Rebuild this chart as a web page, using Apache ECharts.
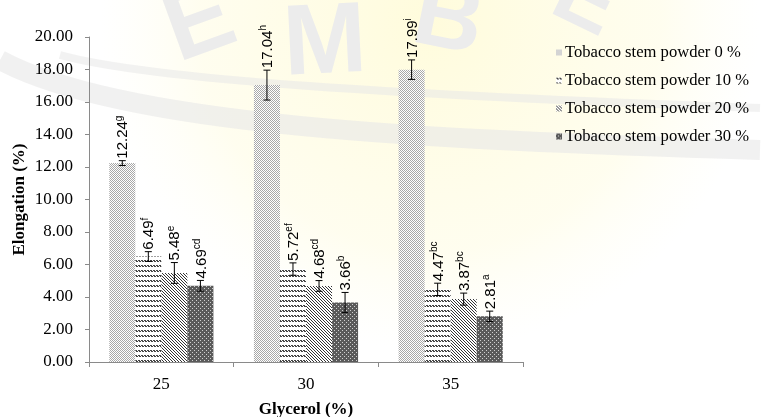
<!DOCTYPE html>
<html>
<head>
<meta charset="utf-8">
<script src="https://cdn.jsdelivr.net/npm/echarts@6/dist/echarts.min.js"></script>
<style>
  html, body { margin: 0; padding: 0; background: #ffffff; }
  #chart { width: 761px; height: 417px; }
</style>
</head>
<body>
<div id="chart"></div>
<script>
// Glycerol levels on the x axis
const categories = ['25', '30', '35'];

// Series names (tobacco stem powder content)
const seriesNames = [
  'Tobacco stem powder 0 %',
  'Tobacco stem powder 10 %',
  'Tobacco stem powder 20 %',
  'Tobacco stem powder 30 %'
];

// Mean elongation (%) per glycerol level
const powder0 = [12.24, 17.04, 17.99];
const powder10 = [6.49, 5.72, 4.47];
const powder20 = [5.48, 4.68, 3.87];
const powder30 = [4.69, 3.66, 2.81];

// Standard deviations (error bars)
const sd0 = [0.15, 0.92, 0.60];
const sd10 = [0.30, 0.38, 0.38];
const sd20 = [0.64, 0.33, 0.37];
const sd30 = [0.33, 0.62, 0.32];

// Significance letters
const letters0 = ['g', 'h', 'i'];
const letters10 = ['f', 'ef', 'bc'];
const letters20 = ['e', 'cd', 'bc'];
const letters30 = ['cd', 'b', 'a'];

// Y axis range
const yMin = 0;
const yMax = 20;
const yStep = 2;

const values = [powder0, powder10, powder20, powder30];
const errors = [sd0, sd10, sd20, sd30];
const letters = [letters0, letters10, letters20, letters30];

const CATEGORY_GAP = 0.28;
const SERIF = '"Liberation Serif", "Times New Roman", serif';
const SANS = '"Liberation Sans", Arial, sans-serif';

// Small pixel tiles used as hatch fills
function tile(w, h, bg, fg, pixels) {
  const c = document.createElement('canvas');
  c.width = w; c.height = h;
  const ctx = c.getContext('2d');
  ctx.fillStyle = bg; ctx.fillRect(0, 0, w, h);
  ctx.fillStyle = fg;
  pixels.forEach(p => ctx.fillRect(p[0], p[1], 1, 1));
  return { image: c, repeat: 'repeat' };
}

const fills = [
  // fine dots
  tile(2, 2, '#ffffff', '#a8a8a8', [[0, 0], [1, 1]]),
  // rows of short slanted dashes
  tile(3, 5, '#ffffff', '#444444', [[0, 0], [1, 0], [1, 1], [2, 1]]),
  // downward diagonals
  tile(3, 3, '#ffffff', '#333333', [[0, 0], [1, 1], [2, 2]]),
  // dark dotted
  tile(4, 4, '#5a5a5a', '#d0d0d0', [[0, 0], [2, 2]])
];

const barSeries = seriesNames.map((name, i) => ({
  name: name,
  type: 'bar',
  data: values[i],
  barGap: '0%',
  barCategoryGap: (CATEGORY_GAP * 100) + '%',
  itemStyle: { color: fills[i] },
  emphasis: { disabled: true },
  z: 2
}));

// Error bars + rotated value labels, one row per bar
const errRows = [];
const errLetters = [];
values.forEach((arr, s) => {
  arr.forEach((v, c) => {
    errRows.push([c, v, errors[s][c], s]);
    errLetters.push(letters[s][c]);
  });
});

const errSeries = {
  type: 'custom',
  name: 'errors',
  data: errRows,
  z: 5,
  silent: true,
  encode: { x: 0, y: 1 },
  renderItem: function (params, api) {
    const c = api.value(0);
    const v = api.value(1);
    const e = api.value(2);
    const s = api.value(3);
    const band = api.size([1, 0])[0];
    const barW = band * (1 - CATEGORY_GAP) / seriesNames.length;
    const center = api.coord([c, v]);
    const x = center[0] + (s - (seriesNames.length - 1) / 2) * barW;
    const yTop = api.coord([c, v + e])[1];
    const yBot = api.coord([c, v - e])[1];
    const cap = 3.5;
    const line = { stroke: '#000', lineWidth: 1 };
    return {
      type: 'group',
      children: [
        { type: 'line', shape: { x1: x, y1: yTop, x2: x, y2: yBot }, style: line },
        { type: 'line', shape: { x1: x - cap, y1: yTop, x2: x + cap, y2: yTop }, style: line },
        { type: 'line', shape: { x1: x - cap, y1: yBot, x2: x + cap, y2: yBot }, style: line },
        {
          type: 'text',
          x: x,
          y: yTop - 2,
          rotation: Math.PI / 2,
          style: {
            text: '{v|' + v.toFixed(2) + '}{s|' + errLetters[params.dataIndex] + '}',
            align: 'left',
            verticalAlign: 'middle',
            rich: {
              v: { fontFamily: SANS, fontSize: 15, lineHeight: 17, fill: '#000', verticalAlign: 'bottom' },
              s: { fontFamily: SANS, fontSize: 10, lineHeight: 17, fill: '#000', verticalAlign: 'top' }
            }
          }
        }
      ]
    };
  }
};

// Faint repository watermark behind the plot
const markFill = '#ececec';
const watermark = [
  {
    type: 'circle', z: -20, silent: true,
    shape: { cx: 430, cy: 20, r: 330 },
    style: {
      fill: new echarts.graphic.RadialGradient(0.5, 0.5, 0.5, [
        { offset: 0, color: 'rgba(255,250,205,0.7)' },
        { offset: 0.7, color: 'rgba(255,251,215,0.4)' },
        { offset: 1, color: 'rgba(255,253,230,0)' }
      ])
    }
  },
  {
    type: 'bezierCurve', z: -19, silent: true,
    shape: { x1: 60, y1: 55, cpx1: 150, cpy1: 80, cpx2: 400, cpy2: 95, x2: 760, y2: 108 },
    style: { stroke: 'rgba(232,232,232,0.55)', lineWidth: 8, fill: null }
  },
  {
    type: 'bezierCurve', z: -19, silent: true,
    shape: { x1: 0, y1: 60, cpx1: 120, cpy1: 125, cpx2: 420, cpy2: 140, x2: 760, y2: 150 },
    style: { stroke: 'rgba(232,232,232,0.6)', lineWidth: 20, fill: null }
  },
  { type: 'text', z: -18, silent: true, x: 200, y: 25, rotation: 0.35,
    style: { text: 'E', fontSize: 100, fontWeight: 'bold', fontFamily: SANS, fill: markFill, align: 'center', verticalAlign: 'middle' } },
  { type: 'text', z: -18, silent: true, x: 325, y: 45, rotation: 0.05,
    style: { text: 'M', fontSize: 100, fontWeight: 'bold', fontFamily: SANS, fill: markFill, align: 'center', verticalAlign: 'middle' } },
  { type: 'text', z: -18, silent: true, x: 448, y: 22, rotation: -0.2,
    style: { text: 'B', fontSize: 95, fontWeight: 'bold', fontFamily: SANS, fill: markFill, align: 'center', verticalAlign: 'middle' } },
  { type: 'text', z: -18, silent: true, x: 585, y: 2, rotation: -0.45,
    style: { text: 'E', fontSize: 90, fontWeight: 'bold', fontFamily: SANS, fill: markFill, align: 'center', verticalAlign: 'middle' } }
];

const chart = echarts.init(document.getElementById('chart'), null, { renderer: 'canvas' });

chart.setOption({
  animation: false,
  backgroundColor: '#ffffff',
  graphic: { elements: watermark },
  grid: { left: 89, right: 238, top: 37, bottom: 55, containLabel: false, outerBoundsMode: 'none' },
  legend: {
    data: seriesNames,
    orient: 'vertical',
    left: 551,
    top: 39,
    itemWidth: 6,
    itemHeight: 6,
    itemGap: 11,
    icon: 'rect',
    selectedMode: false,
    textStyle: { fontFamily: SERIF, fontSize: 16.6, color: '#000', padding: [0, 0, 0, -2] }
  },
  xAxis: {
    type: 'category',
    data: categories,
    name: 'Glycerol (%)',
    nameLocation: 'middle',
    nameGap: 39,
    nameTextStyle: { fontFamily: SERIF, fontSize: 17, fontWeight: 'bold', color: '#000' },
    axisLine: { lineStyle: { color: '#8a8a8a', width: 1 } },
    axisTick: { show: true, length: 5, lineStyle: { color: '#8a8a8a' } },
    axisLabel: { fontFamily: SERIF, fontSize: 17, color: '#000', margin: 14 }
  },
  yAxis: {
    type: 'value',
    min: yMin,
    max: yMax,
    interval: yStep,
    name: 'Elongation (%)',
    nameLocation: 'middle',
    nameGap: 61,
    nameMoveOverlap: false,
    nameTextStyle: { fontFamily: SERIF, fontSize: 17, fontWeight: 'bold', color: '#000' },
    axisLine: { show: true, lineStyle: { color: '#8a8a8a', width: 1 } },
    axisTick: { show: true, length: 4, inside: false, lineStyle: { color: '#8a8a8a' } },
    splitLine: { show: false },
    axisLabel: {
      fontFamily: SERIF, fontSize: 17, color: '#000', margin: 16,
      formatter: v => v.toFixed(2)
    }
  },
  series: barSeries.concat([errSeries])
});
</script>
</body>
</html>
